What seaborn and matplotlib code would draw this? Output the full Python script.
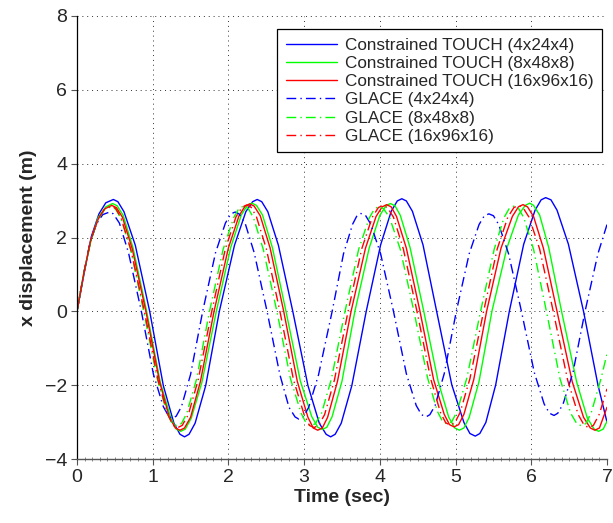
import numpy as np
import pandas as pd
import matplotlib
matplotlib.use("Agg")
import matplotlib.pyplot as plt
import seaborn as sns
from matplotlib.ticker import MultipleLocator

# series names (legend order)
names = [
    "Constrained TOUCH (4x24x4)", "Constrained TOUCH (8x48x8)", "Constrained TOUCH (16x96x16)",
    "GLACE (4x24x4)", "GLACE (8x48x8)", "GLACE (16x96x16)",
]

# Constrained TOUCH 4x24x4
t_touch4 = [0, .10, .19, .29, .38, .48, .54, .62, .77, .96, 1.14, 1.28, 1.36, 1.42, 1.48, 1.56, 1.70, 1.88,
            2.08, 2.23, 2.32, 2.38, 2.44, 2.52, 2.66, 2.85, 3.05, 3.20, 3.29, 3.35, 3.41, 3.49, 3.63, 3.82,
            4.01, 4.15, 4.23, 4.29, 4.35, 4.43, 4.57, 4.75, 4.95, 5.11, 5.19, 5.26, 5.32, 5.40, 5.53, 5.71,
            5.90, 6.05, 6.13, 6.19, 6.26, 6.34, 6.49, 6.69, 6.88, 7.00]
x_touch4 = [0, 1.09, 2.03, 2.64, 2.94, 3.03, 2.97, 2.70, 1.79, 0, -2.01, -3.03, -3.33, -3.40, -3.33, -3.03, -2.01, 0,
            1.79, 2.70, 2.97, 3.03, 2.97, 2.70, 1.79, 0, -2.01, -3.03, -3.33, -3.40, -3.33, -3.03, -2.01, 0,
            1.80, 2.71, 2.99, 3.05, 2.99, 2.71, 1.80, 0, -1.99, -3.01, -3.31, -3.38, -3.31, -3.01, -1.99, 0,
            1.82, 2.74, 3.02, 3.08, 3.02, 2.74, 1.82, 0, -1.99, -3.00]

# Constrained TOUCH 8x48x8
t_touch8 = [0, .09, .19, .28, .38, .47, .53, .61, .74, .92, 1.10, 1.24, 1.31, 1.37, 1.43, 1.51, 1.65, 1.84,
            2.03, 2.17, 2.25, 2.31, 2.37, 2.45, 2.58, 2.76, 2.95, 3.10, 3.18, 3.24, 3.30, 3.37, 3.50, 3.67,
            3.86, 4.00, 4.08, 4.14, 4.20, 4.27, 4.40, 4.58, 4.77, 4.91, 4.99, 5.05, 5.11, 5.18, 5.31, 5.48,
            5.68, 5.83, 5.92, 5.98, 6.03, 6.11, 6.23, 6.40, 6.60, 6.74, 6.83, 6.89, 6.95, 7.00]
x_touch8 = [0, 1.05, 1.96, 2.54, 2.83, 2.92, 2.86, 2.60, 1.72, 0, -1.92, -2.89, -3.19, -3.25, -3.19, -2.89, -1.92, 0,
            1.73, 2.61, 2.87, 2.93, 2.87, 2.61, 1.73, 0, -1.89, -2.85, -3.14, -3.20, -3.14, -2.85, -1.89, 0,
            1.72, 2.60, 2.86, 2.92, 2.86, 2.60, 1.72, 0, -1.90, -2.87, -3.16, -3.22, -3.16, -2.87, -1.90, 0,
            1.73, 2.61, 2.87, 2.93, 2.87, 2.61, 1.73, 0, -1.92, -2.89, -3.19, -3.25, -3.19, -2.98]

# Constrained TOUCH 16x96x16
t_touch16 = [0, .09, .18, .28, .37, .46, .52, .60, .73, .91, 1.09, 1.22, 1.30, 1.36, 1.42, 1.50, 1.63, 1.81,
             2.00, 2.14, 2.22, 2.28, 2.34, 2.42, 2.55, 2.73, 2.91, 3.05, 3.12, 3.18, 3.24, 3.31, 3.44, 3.62,
             3.81, 3.95, 4.03, 4.09, 4.15, 4.22, 4.35, 4.53, 4.71, 4.85, 4.92, 4.98, 5.04, 5.11, 5.24, 5.41,
             5.60, 5.75, 5.83, 5.89, 5.95, 6.03, 6.16, 6.34, 6.54, 6.69, 6.78, 6.84, 6.90, 7.00]
x_touch16 = [0, 1.03, 1.92, 2.50, 2.78, 2.87, 2.81, 2.55, 1.69, 0, -1.90, -2.87, -3.16, -3.22, -3.16, -2.87, -1.90, 0,
             1.72, 2.59, 2.85, 2.91, 2.85, 2.59, 1.72, 0, -1.90, -2.87, -3.16, -3.22, -3.16, -2.87, -1.90, 0,
             1.71, 2.57, 2.83, 2.89, 2.83, 2.57, 1.71, 0, -1.85, -2.79, -3.07, -3.13, -3.07, -2.79, -1.85, 0,
             1.71, 2.57, 2.83, 2.89, 2.83, 2.57, 1.71, 0, -1.90, -2.87, -3.16, -3.22, -3.16, -2.60]

# GLACE 4x24x4
t_glace4 = [0, .09, .17, .26, .34, .43, .48, .56, .68, .85, 1.01, 1.14, 1.21, 1.26, 1.31, 1.38, 1.50, 1.66,
            1.83, 1.96, 2.03, 2.09, 2.14, 2.22, 2.34, 2.51, 2.68, 2.80, 2.88, 2.93, 2.99, 3.06, 3.19, 3.37,
            3.52, 3.64, 3.70, 3.75, 3.81, 3.88, 4.01, 4.18, 4.35, 4.48, 4.55, 4.61, 4.66, 4.73, 4.85, 5.01,
            5.18, 5.31, 5.38, 5.44, 5.50, 5.57, 5.70, 5.87, 6.04, 6.17, 6.24, 6.30, 6.35, 6.42, 6.55, 6.71,
            6.88, 7.00]
x_glace4 = [0, 1.03, 1.85, 2.38, 2.62, 2.69, 2.64, 2.39, 1.59, 0, -1.71, -2.58, -2.84, -2.90, -2.84, -2.58, -1.71, 0,
            1.59, 2.39, 2.64, 2.69, 2.64, 2.39, 1.59, 0, -1.72, -2.60, -2.86, -2.92, -2.86, -2.60, -1.72, 0,
            1.56, 2.36, 2.60, 2.65, 2.60, 2.36, 1.56, 0, -1.69, -2.55, -2.80, -2.86, -2.80, -2.55, -1.69, 0,
            1.56, 2.35, 2.59, 2.64, 2.59, 2.35, 1.56, 0, -1.66, -2.51, -2.76, -2.82, -2.76, -2.51, -1.66, 0,
            1.56, 2.35]

# GLACE 8x48x8
t_glace8 = [0, .09, .18, .27, .36, .45, .51, .58, .71, .88, 1.06, 1.19, 1.26, 1.32, 1.38, 1.45, 1.58, 1.75,
            1.93, 2.07, 2.14, 2.20, 2.26, 2.33, 2.46, 2.64, 2.82, 2.96, 3.03, 3.09, 3.15, 3.23, 3.36, 3.54,
            3.72, 3.86, 3.93, 3.99, 4.05, 4.13, 4.27, 4.45, 4.63, 4.76, 4.83, 4.89, 4.95, 5.02, 5.15, 5.33,
            5.51, 5.64, 5.71, 5.77, 5.83, 5.90, 6.03, 6.20, 6.38, 6.52, 6.60, 6.66, 6.72, 6.79, 6.92, 7.00]
x_glace8 = [0, 1.02, 1.90, 2.46, 2.75, 2.83, 2.77, 2.52, 1.67, 0, -1.83, -2.76, -3.04, -3.10, -3.04, -2.76, -1.83, 0,
            1.68, 2.54, 2.79, 2.85, 2.79, 2.54, 1.68, 0, -1.83, -2.76, -3.04, -3.10, -3.04, -2.76, -1.83, 0,
            1.68, 2.53, 2.78, 2.84, 2.78, 2.53, 1.68, 0, -1.80, -2.71, -2.99, -3.05, -2.99, -2.71, -1.80, 0,
            1.68, 2.54, 2.79, 2.85, 2.79, 2.54, 1.68, 0, -1.83, -2.76, -3.04, -3.10, -3.04, -2.76, -1.83, -1.15]

# GLACE 16x96x16
t_glace16 = [0, .09, .18, .27, .36, .45, .51, .58, .71, .89, 1.07, 1.20, 1.27, 1.33, 1.39, 1.47, 1.60, 1.78,
             1.96, 2.10, 2.18, 2.24, 2.30, 2.37, 2.50, 2.68, 2.86, 3.00, 3.07, 3.13, 3.19, 3.27, 3.40, 3.58,
             3.76, 3.90, 3.98, 4.04, 4.10, 4.18, 4.31, 4.49, 4.67, 4.80, 4.87, 4.93, 4.99, 5.06, 5.19, 5.37,
             5.55, 5.69, 5.77, 5.83, 5.89, 5.97, 6.11, 6.29, 6.48, 6.62, 6.70, 6.76, 6.82, 6.90, 7.00]
x_glace16 = [0, 1.03, 1.91, 2.48, 2.76, 2.85, 2.79, 2.54, 1.68, 0, -1.86, -2.80, -3.09, -3.15, -3.09, -2.80, -1.86, 0,
             1.70, 2.56, 2.82, 2.88, 2.82, 2.56, 1.70, 0, -1.86, -2.80, -3.09, -3.15, -3.09, -2.80, -1.86, 0,
             1.69, 2.55, 2.81, 2.87, 2.81, 2.55, 1.69, 0, -1.82, -2.74, -3.02, -3.08, -3.02, -2.74, -1.82, 0,
             1.69, 2.55, 2.81, 2.87, 2.81, 2.55, 1.69, 0, -1.86, -2.80, -3.09, -3.15, -3.09, -2.78, -2.10]

times = [t_touch4, t_touch8, t_touch16, t_glace4, t_glace8, t_glace16]
disps = [x_touch4, x_touch8, x_touch16, x_glace4, x_glace8, x_glace16]

frames = []
for name, t, x in zip(names, times, disps):
    frames.append(pd.DataFrame({"time": t, "disp": x, "series": name}))
df = pd.concat(frames, ignore_index=True)

colors = ["#0000ff", "#00ff00", "#ff0000"] * 2
palette = dict(zip(names, colors))
dashdot = (7, 3, 1, 3)
dashes = dict(zip(names, ["", "", "", dashdot, dashdot, dashdot]))

sns.set_theme(style="ticks")
plt.rcParams["font.family"] = ["Liberation Sans", "DejaVu Sans"]
plt.rcParams["axes.unicode_minus"] = True

fig = plt.figure(figsize=(6.13, 5.23), dpi=100)
ax = fig.add_axes([77 / 613, 64 / 523, 530 / 613, 443 / 523])

sns.lineplot(data=df, x="time", y="disp", hue="series", style="series",
             hue_order=names, style_order=names, palette=palette, dashes=dashes,
             estimator=None, sort=False, linewidth=1.0, legend=False, ax=ax)

ax.set_xlim(0, 7)
ax.set_ylim(-4, 8)
ax.xaxis.set_major_locator(MultipleLocator(1))
ax.xaxis.set_minor_locator(MultipleLocator(0.1))
ax.yaxis.set_major_locator(MultipleLocator(2))
ax.grid(True, which="major", linestyle=(0, (1, 4)), color="#333333", linewidth=0.7)
ax.tick_params(axis="both", which="major", labelsize=14, length=4, width=0.8, color="#555555", pad=3)
ax.tick_params(axis="x", which="minor", length=2.5, width=0.6, color="#777777", direction="inout")

for side in ["top", "right"]:
    ax.spines[side].set_visible(False)
ax.spines["left"].set_color("black")
ax.spines["left"].set_linewidth(0.9)
ax.spines["bottom"].set_color("#555555")
ax.spines["bottom"].set_linewidth(1.0)

ax.set_xlabel("Time (sec)", fontsize=14, fontweight="bold", labelpad=2)
ax.set_ylabel("x displacement (m)", fontsize=14, fontweight="bold", labelpad=6)

handles = ax.get_lines()[:6]
leg = ax.legend(handles, names, loc="upper right", bbox_to_anchor=(0.9906, 0.9707),
                borderaxespad=0, fontsize=12.3, frameon=True, fancybox=False,
                handlelength=3.0, handletextpad=0.45, labelspacing=0.19,
                borderpad=0.5, edgecolor="black", framealpha=1)
leg.get_frame().set_linewidth(0.9)

fig.savefig("out.png", dpi=100)
